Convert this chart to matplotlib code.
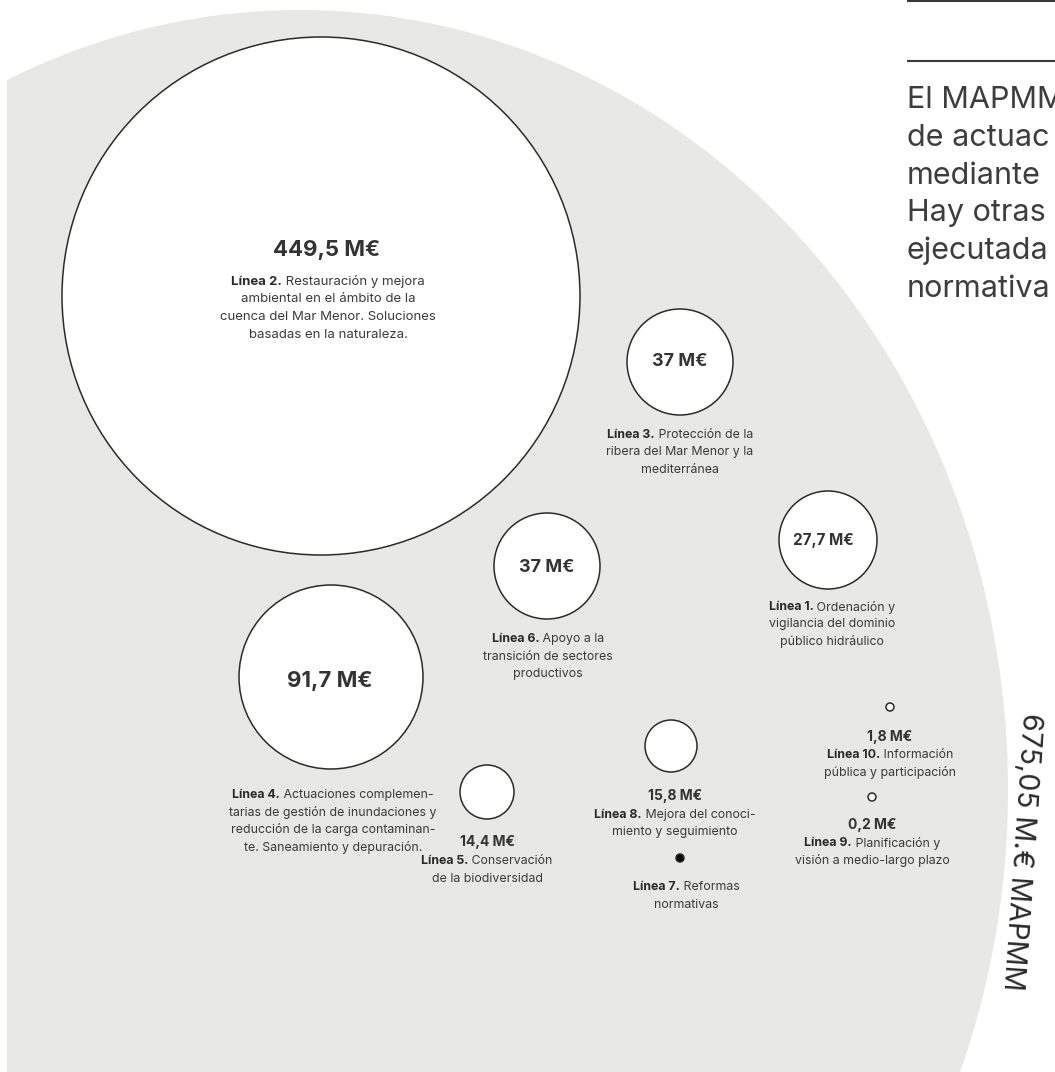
import matplotlib.pyplot as plt
from matplotlib.patches import Circle, Ellipse, Rectangle

plt.rcParams['font.family'] = ['Inter', 'DejaVu Sans']

# data
lineas = ['Línea 1.', 'Línea 2.', 'Línea 3.', 'Línea 4.', 'Línea 5.',
          'Línea 6.', 'Línea 7.', 'Línea 8.', 'Línea 9.', 'Línea 10.']
importes = [27.7, 449.5, 37, 91.7, 14.4, 37, None, 15.8, 0.2, 1.8]
etiquetas = ['27,7 M€', '449,5 M€', '37 M€', '91,7 M€', '14,4 M€',
             '37 M€', '', '15,8 M€', '0,2 M€', '1,8 M€']
descripciones = [
    ['Ordenación y', 'vigilancia del dominio', 'público hidráulico'],
    ['Restauración y mejora', 'ambiental en el ámbito de la',
     'cuenca del Mar Menor. Soluciones', 'basadas en la naturaleza.'],
    ['Protección de la', 'ribera del Mar Menor y la', 'mediterránea'],
    ['Actuaciones complemen-', 'tarias de gestión de inundaciones y',
     'reducción de la carga contaminan-', 'te. Saneamiento y depuración.'],
    ['Conservación', 'de la biodiversidad'],
    ['Apoyo a la', 'transición de sectores', 'productivos'],
    ['Reformas', 'normativas'],
    ['Mejora del conoci-', 'miento y seguimiento'],
    ['Planificación y', 'visión a medio-largo plazo'],
    ['Información', 'pública y participación'],
]
total = '675,05 M.€ MAPMM'
parrafo = ['El MAPMM', 'de actuac', 'mediante', 'Hay otras', 'ejecutada', 'normativa']

# layout (pixels): circle x, y, r, value x, value y, value size, text x, text y, text size
layout = [
    (828, 540, 49, 823, 540, 11, 832, 607, 8.9),
    (321, 296, 259, 327, 250, 16, 328, 282, 9.5),
    (680, 362, 53, 680, 362, 13, 680, 435, 8.9),
    (331, 677, 92, 330, 681, 16, 333, 795, 8.9),
    (487, 792, 27, 487, 842, 10, 487, 861, 8.9),
    (547, 566, 53, 547, 568, 13, 548, 639, 8.9),
    (680, 858, 4, None, None, 10, 686, 887, 8.9),
    (671, 746, 26, 675, 796, 10, 675, 815, 8.9),
    (872, 797, 4, 872, 825, 10, 872, 843, 8.9),
    (890, 707, 4, 890, 737, 10, 890, 755, 8.9),
]

W, H = 1055, 1072
fig = plt.figure(figsize=(W / 100, H / 100), dpi=100)
ax = fig.add_axes([0, 0, 1, 1])
ax.set_xlim(0, W)
ax.set_ylim(H, 0)
ax.axis('off')

gris = '#e8e8e6'
tinta = '#333333'

fondo = Ellipse((300, 790), 1416, 1560, facecolor=gris, edgecolor='none', zorder=0)
ax.add_patch(fondo)
fondo.set_clip_path(Rectangle((7, 0), 2000, 2000, transform=ax.transData))

renderer = fig.canvas.get_renderer()


def linea_mixta(x, y, negrita, resto, size):
    t1 = ax.text(0, y, negrita, fontsize=size, fontweight='bold', color='#2a2a2a',
                 ha='left', va='center', zorder=5)
    t2 = ax.text(0, y, ' ' + resto, fontsize=size, color='#3a3a3a',
                 ha='left', va='center', zorder=5)
    w1 = t1.get_window_extent(renderer).width
    w2 = t2.get_window_extent(renderer).width
    left = x - (w1 + w2) / 2
    t1.set_x(left)
    t2.set_x(left + w1)


for i in range(len(lineas)):
    cx, cy, r, vx, vy, vsize, tx, ty, tsize = layout[i]
    fc = 'black' if importes[i] is None else 'white'
    ax.add_patch(Circle((cx, cy), r, facecolor=fc, edgecolor='#2b2b2b',
                        linewidth=1.1, zorder=2))
    if etiquetas[i]:
        ax.text(vx, vy, etiquetas[i], fontsize=vsize, fontweight='bold',
                color=tinta, ha='center', va='center', zorder=5)
    filas = descripciones[i]
    linea_mixta(tx, ty, lineas[i], filas[0], tsize)
    for j, fila in enumerate(filas[1:], start=1):
        ax.text(tx, ty + j * 17.5, fila, fontsize=tsize, color='#3a3a3a',
                ha='center', va='center', zorder=5)

# right-hand column
ax.plot([907, W], [1, 1], color='#3a3a3a', linewidth=1.5, solid_capstyle='butt')
ax.plot([907, W], [61, 61], color='#3a3a3a', linewidth=1.5, solid_capstyle='butt')
for k, fila in enumerate(parrafo):
    ax.text(907, 108 + k * 37.8, fila, fontsize=22, color='#3d3d3d',
            ha='left', va='baseline')

ax.text(1021, 852, total, fontsize=20.5, color='#2a2a2a', rotation=-94,
        rotation_mode='anchor', ha='center', va='center')

fig.savefig('out.png', dpi=100)
